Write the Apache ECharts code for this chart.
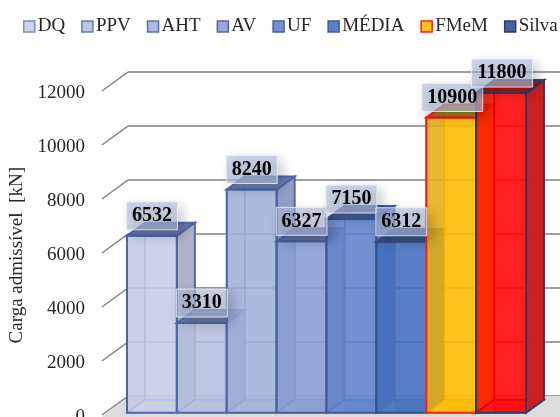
<!DOCTYPE html>
<html><head><meta charset="utf-8">
<style>html,body{margin:0;padding:0;background:#fff}#c{width:560px;height:417px}</style>
<script src="https://cdn.jsdelivr.net/npm/echarts@6/dist/echarts.min.js"></script>
</head><body><div id="c"></div>
<script>
const categories = ['DQ','PPV','AHT','AV','UF','MÉDIA','FMeM','Silva'];
const values = [6532,3310,8240,6327,7150,6312,10900,11800];
const yTicks = [0,2000,4000,6000,8000,10000,12000];

const frontColors = ['#c6cee6','#b4bfdf','#a3b2da','#899cd3','#5f81cc','#446ebd','#ffbb00','#ff0202'];
const sideColors  = ['#a9afc2','#98a3c0','#8d9ac2','#7f8fc0','#5f7dbd','#4a6eb5','#e0a80f','#c91f1f'];
const topColors   = ['#5f6f9e','#67749c','#6a78a6','#5a6a9c','#3f5a96','#33507f','#8f7c20','#a51616'];
const leftColors  = ['#c3cbe3','#b4bfde','#a0aed7','#8b9dd2','#6486c9','#4470bd','#e6ae14','#ff1600'];
const borderColors= ['#4a65a8','#4a65a8','#4a65a8','#445f9f','#3c5a98','#34508a','#ff1a10','#2c3c6c'];
const innerColors = ['#b0bbdb','#a5b2d8','#97a7d3','#8597cc','#5f80c4','#4e74ba','#f2a800','#e00000'];
const legendColors= ['#cdd4e9','#bdc7e3','#aebbdf','#97a8d8','#7290d2','#5a80c5','#ffc31e','#44639c'];
const legendBorders=['#6f8cc6','#5f7cbc','#5571b2','#4c68a8','#44639f','#3f5e98','#ff1a10','#2c3c6c'];

const serif = '"Liberation Serif","Times New Roman",serif';
const depthX = 18, depthY = -13;

function rect(x,y,w,h,fill,stroke,lw,op){
  return {type:'rect',shape:{x,y,width:w,height:h},style:{fill,stroke,lineWidth:lw,opacity:op===undefined?1:op}};
}
function poly(pts,fill,stroke,lw,op){
  return {type:'polygon',shape:{points:pts},style:{fill,stroke,lineWidth:lw,opacity:op===undefined?1:op}};
}
function barRenderer(i){
  return function(params,api){
    const top = api.coord([api.value(0),api.value(1)]);
    const base = api.coord([api.value(0),0]);
    const w = api.size([1,0])[0];
    const x = top[0]-w/2, y = top[1], b = base[1];
    const dx = depthX, dy = depthY;
    const bc = borderColors[i], ic = innerColors[i], f = frontColors[i];
    return {type:'group',children:[
      rect(x+dx,y+dy,w,b-y,f,ic,1.5,0.8),
      poly([[x,y],[x+dx,y+dy],[x+dx,b+dy],[x,b]],leftColors[i],ic,1.5,0.88),
      poly([[x,b],[x+dx,b+dy],[x+w+dx,b+dy],[x+w,b]],f,ic,1.5,0.9),
      rect(x+dx,y,w-dx,b-y,f,null,0,0.4),
      poly([[x+w,y],[x+w+dx,y+dy],[x+w+dx,b+dy],[x+w,b]],sideColors[i],bc,2,0.92),
      poly([[x,y],[x+dx,y+dy],[x+w+dx,y+dy],[x+w,y]],topColors[i],bc,2,0.92),
      rect(x,y,w,b-y,'rgba(0,0,0,0)',bc,2)
    ]};
  };
}
function labelRenderer(params,api){
  const p = api.coord([api.value(0),api.value(1)]);
  const txt = String(api.value(1));
  const w = txt.length>4 ? 61 : 51, h = 28;
  const cy = p[1]-20, cx = p[0]+(txt.length>4?1:0);
  return {type:'group',children:[
    {type:'rect',shape:{x:cx-w/2,y:cy-h/2,width:w,height:h},
     style:{fill:'rgba(178,192,222,0.62)',stroke:'rgba(235,240,250,0.85)',lineWidth:1,
            shadowBlur:12,shadowColor:'rgba(0,0,0,0.3)',shadowOffsetX:5,shadowOffsetY:5}},
    {type:'text',x:cx,y:cy,style:{text:txt,fill:'#000',font:'bold 20px '+serif,align:'center',verticalAlign:'middle'}}
  ]};
}
function tickRenderer(params,api){
  const p = api.coord([0,api.value(0)]);
  return {type:'line',shape:{x1:p[0],y1:p[1],x2:p[0]-26,y2:p[1]+19},style:{stroke:'#7f7f7f',lineWidth:1.5}};
}
function floorRenderer(params,api){
  const p = api.coord([0,0]);
  return {type:'polygon',shape:{points:[[p[0],p[1]],[p[0]+480,p[1]],[p[0]+454,p[1]+21],[p[0]-26,p[1]+21]]},
          style:{fill:'#dcdcdc'}};
}

const barSeries = categories.map((name,i)=>({
  name, type:'custom', xAxisIndex:2, yAxisIndex:2, z:3,
  renderItem:barRenderer(i), data:[[i,values[i]]], encode:{x:0,y:1}
}));

const option = {
  animation:false,
  backgroundColor:'#fff',
  legend:{
    left:23, top:17, padding:0, itemWidth:11, itemHeight:11, itemGap:16, icon:'rect',
    textStyle:{fontFamily:serif,fontSize:19,color:'#262626',padding:[0,0,0,-2]},
    data:categories.map((name,i)=>({name,itemStyle:{color:legendColors[i],borderColor:legendBorders[i],borderWidth:1.5}}))
  },
  grid:[
    {left:102,top:93,width:400,height:324.5,outerBoundsMode:'none'},
    {left:128,top:72,width:440,height:324,outerBoundsMode:'none'},
    {left:127,top:87.7,width:399,height:325,outerBoundsMode:'none'}
  ],
  xAxis:[
    {gridIndex:0,type:'value',min:0,max:1,show:false},
    {gridIndex:1,type:'value',min:0,max:1,show:false},
    {gridIndex:2,type:'category',data:categories,show:false,boundaryGap:true}
  ],
  yAxis:[
    {gridIndex:0,type:'value',min:0,max:12000,interval:2000,
     name:'Carga admissível  [kN]',nameLocation:'middle',nameGap:64,
     nameTextStyle:{fontFamily:serif,fontSize:19,color:'#262626'},
     axisLine:{show:false},axisTick:{show:false},splitLine:{show:false},
     axisLabel:{margin:17,fontFamily:serif,fontSize:19,color:'#262626',formatter:v=>String(v)}},
    {gridIndex:1,type:'value',min:0,max:12000,interval:2000,
     axisLine:{show:false},axisTick:{show:false},axisLabel:{show:false},
     splitLine:{show:true,lineStyle:{color:'#7f7f7f',width:1.5}}},
    {gridIndex:2,type:'value',min:0,max:12000,interval:2000,show:false,splitLine:{show:false}}
  ],
  series:[
    {type:'custom',xAxisIndex:1,yAxisIndex:1,z:1,renderItem:floorRenderer,data:[[0]],encode:{y:0},silent:true},
    {type:'custom',xAxisIndex:1,yAxisIndex:1,z:2,renderItem:tickRenderer,data:yTicks.map(v=>[v]),encode:{y:0},silent:true},
    ...barSeries,
    {type:'custom',xAxisIndex:2,yAxisIndex:2,z:5,renderItem:labelRenderer,
     data:values.map((v,i)=>[i,v]),encode:{x:0,y:1},silent:true}
  ]
};
echarts.init(document.getElementById('c'),null,{renderer:'canvas'}).setOption(option);
</script></body></html>
